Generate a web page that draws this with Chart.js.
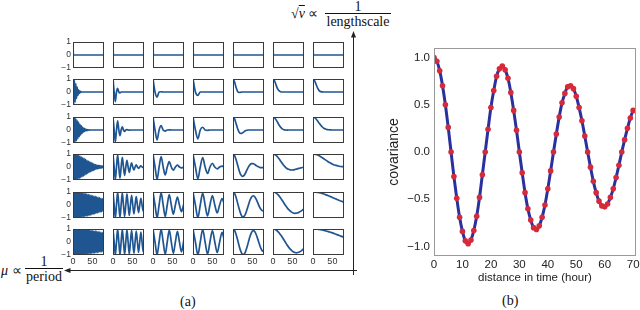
<!DOCTYPE html>
<html><head><meta charset="utf-8">
<script src="https://cdn.jsdelivr.net/npm/chart.js@4.4.1/dist/chart.umd.min.js"></script>
<style>
html,body{margin:0;padding:0;background:#fff;}
#wrap{position:relative;width:640px;height:310px;overflow:hidden;font-family:"Liberation Serif",serif;color:#111;}
canvas{position:absolute;}
.lbl{position:absolute;white-space:nowrap;font-size:14px;line-height:16px;}
.frac{position:absolute;text-align:center;font-size:14px;}
svg{position:absolute;left:0;top:0;}
</style></head><body><div id="wrap">
<svg width="640" height="310">
  <line x1="353.5" y1="275" x2="353.5" y2="36" stroke="#222" stroke-width="1"/>
  <polygon points="353.5,31 351,37.5 356,37.5" fill="#222"/>
  <line x1="357" y1="270.5" x2="69" y2="270.5" stroke="#222" stroke-width="1"/>
  <polygon points="64,270.5 70.5,268 70.5,273" fill="#222"/>
</svg>
<div class="lbl" style="left:291px;top:6px;">√<span style="text-decoration:overline;font-style:italic;">v</span> ∝</div>
<div class="frac" style="left:325px;top:0px;width:66px;"><div style="height:13px;line-height:13px;">1</div><div style="border-top:1px solid #111;line-height:15px;">lengthscale</div></div>
<div class="lbl" style="left:1px;top:263px;"><i>μ</i> ∝</div>
<div class="frac" style="left:25px;top:256px;width:38px;"><div style="height:12px;line-height:12px;">1</div><div style="border-top:1px solid #111;line-height:15px;">period</div></div>
<div class="lbl" style="left:180px;top:294px;">(a)</div>
<div class="lbl" style="left:502px;top:293px;">(b)</div>
</div>
<script>
// ---- panel (a): x grids per column (units of time) ----
const xFast = [0,1.8,3.6,5.4,7.2,9,10.8,12.6,14.4,16.2,18,19.8,21.6,23.4,25.2,27,28.8,30.6,32.4,34.2,36,37.8,39.6,41.4,43.2,45,46.8,48.6,50.4,52.2,54,55.8,57.6,59.4,61.2,63,64.8,66.6,68.4,70.2,72,73.8,75.6,77.4,79.2];
const x12 = [0,3,6,9,12,15,18,21,24,27,30,33,36,39,42,45,48,51,54,57,60,63,66,69,72,75,78,80];
const x21 = [0,5.25,10.5,15.75,21,26.25,31.5,36.75,42,47.25,52.5,57.75,63,68.25,73.5,78.75,80];
const x25 = [0,6.25,12.5,18.75,25,31.25,37.5,43.75,50,56.25,62.5,68.75,75,80];
const xSlow = [0,4,8,12,16,20,24,28,32,36,40,44,48,52,56,60,64,68,72,76,80];
const xSpike = [0,1,80];
const columnX = [xFast, x12, x21, x25, xSlow, xSlow, xSlow];

// ---- panel (a): cell values, one array per row (7 columns each) ----
const row1 = [[1,0,0],[1,0,0],[1,0,0],[1,0,0],[1,0,0],[1,0,0],[1,0,0]];
const row2 = [
 [1,-0.97,0.90,-0.78,0.64,-0.50,0.37,-0.26,0.17,-0.11,0.06,-0.04,0.02,0,0,0,0,0,0,0,0,0,0,0,0,0,0,0,0,0,0,0,0,0,0,0,0,0,0,0,0,0,0,0,0],
 [1,0,-0.74,0,0.29,0,-0.06,0,0,0,0,0,0,0,0,0,0,0,0,0,0,0,0,0,0,0,0,0],
 [1,0,-0.39,0,0.02,0,0,0,0,0,0,0,0,0,0,0,0],
 [1,0,-0.26,0,0,0,0,0,0,0,0,0,0,0],
 [1,0.78,0.34,0.04,-0.04,-0.02,0,0,0,0,0,0,0,0,0,0,0,0,0,0,0],
 [1,0.86,0.53,0.24,0.08,0.02,0,0,0,0,0,0,0,0,0,0,0,0,0,0,0],
 [1,0.87,0.58,0.29,0.11,0.03,0.01,0,0,0,0,0,0,0,0,0,0,0,0,0,0]
];
const row3 = [
 [1,-0.99,0.97,-0.93,0.88,-0.82,0.75,-0.67,0.60,-0.52,0.44,-0.38,0.31,-0.25,0.20,-0.16,0.13,-0.10,0.07,-0.05,0.04,-0.03,0.02,-0.01,0,0,0,0,0,0,0,0,0,0,0,0,0,0,0,0,0,0,0,0,0],
 [1,0,-0.91,0,0.70,0,-0.44,0,0.24,0,-0.11,0,0.04,0,-0.01,0,0,0,0,0,0,0,0,0,0,0,0,0],
 [1,0,-0.76,0,0.33,0,-0.08,0,0.01,0,0,0,0,0,0,0,0],
 [1,0,-0.68,0,0.21,0,-0.03,0,0,0,0,0,0,0],
 [1,0.85,0.50,0.10,-0.17,-0.27,-0.23,-0.14,-0.06,-0.02,0,0,0,0,0,0,0,0,0,0,0],
 [1,0.94,0.78,0.58,0.37,0.20,0.09,0.02,0,-0.01,0,0,0,0,0,0,0,0,0,0,0],
 [1,0.96,0.85,0.69,0.52,0.36,0.23,0.13,0.07,0.03,0.02,0.01,0,0,0,0,0,0,0,0,0]
];
const row4 = [
 [1,-1.00,0.99,-0.99,0.97,-0.96,0.94,-0.92,0.90,-0.88,0.85,-0.82,0.79,-0.76,0.73,-0.70,0.66,-0.63,0.59,-0.56,0.52,-0.49,0.46,-0.42,0.39,-0.36,0.34,-0.31,0.28,-0.26,0.23,-0.21,0.19,-0.17,0.15,-0.14,0.12,-0.11,0.10,-0.09,0.08,-0.07,0.06,-0.05,0.04],
 [1,0,-0.98,0,0.93,0,-0.85,0,0.75,0,-0.64,0,0.52,0,-0.41,0,0.32,0,-0.23,0,0.17,0,-0.11,0,0.08,0,-0.05,-0.02],
 [1,0,-0.95,0,0.80,0,-0.61,0,0.41,0,-0.25,0,0.14,0,-0.07,0,0.01],
 [1,0,-0.92,0,0.73,0,-0.50,0,0.29,0,-0.14,0,0.06,0.01],
 [1,0.88,0.56,0.14,-0.28,-0.59,-0.72,-0.67,-0.48,-0.22,0.01,0.18,0.26,0.26,0.19,0.11,0.03,-0.02,-0.05,-0.05,-0.04],
 [1,0.97,0.89,0.77,0.61,0.44,0.27,0.12,-0.01,-0.12,-0.18,-0.22,-0.23,-0.22,-0.20,-0.16,-0.13,-0.10,-0.07,-0.04,-0.03],
 [1,0.99,0.96,0.92,0.86,0.79,0.71,0.63,0.55,0.47,0.39,0.32,0.26,0.20,0.15,0.12,0.09,0.06,0.04,0.03,0.02]
];
const row5 = [
 [1,-1,1,-1,0.99,-0.99,0.99,-0.98,0.97,-0.97,0.96,-0.95,0.94,-0.93,0.92,-0.91,0.90,-0.89,0.88,-0.86,0.85,-0.84,0.82,-0.81,0.79,-0.78,0.76,-0.74,0.73,-0.71,0.69,-0.68,0.66,-0.64,0.63,-0.61,0.59,-0.57,0.56,-0.54,0.52,-0.51,0.49,-0.47,0.46],
 [1,0,-1.00,0,0.98,0,-0.96,0,0.93,0,-0.89,0,0.85,0,-0.80,0,0.75,0,-0.69,0,0.64,0,-0.58,0,0.52,0,-0.47,-0.22],
 [1,0,-0.99,0,0.95,0,-0.88,0,0.80,0,-0.71,0,0.61,0,-0.51,0,0.16],
 [1,0,-0.98,0,0.92,0,-0.84,0,0.73,0,-0.61,0,0.50,0.14],
 [1,0.89,0.58,0.14,-0.31,-0.68,-0.89,-0.89,-0.70,-0.36,0.02,0.38,0.62,0.71,0.63,0.43,0.16,-0.12,-0.33,-0.44,-0.45],
 [1,0.98,0.91,0.81,0.68,0.52,0.34,0.16,-0.02,-0.19,-0.34,-0.46,-0.55,-0.61,-0.64,-0.63,-0.60,-0.54,-0.47,-0.39,-0.30],
 [1,1.00,0.99,0.97,0.95,0.92,0.89,0.85,0.80,0.76,0.71,0.66,0.61,0.55,0.50,0.45,0.40,0.35,0.31,0.26,0.22]
];
const row6 = [
 [1,-1,1,-1,1,-1,0.99,-0.99,0.99,-0.99,0.98,-0.98,0.98,-0.97,0.97,-0.96,0.96,-0.95,0.95,-0.94,0.94,-0.93,0.93,-0.92,0.91,-0.90,0.90,-0.89,0.88,-0.87,0.86,-0.86,0.85,-0.84,0.83,-0.82,0.81,-0.80,0.79,-0.78,0.77,-0.76,0.75,-0.74,0.73],
 [1,0,-1.00,0,0.99,0,-0.98,0,0.97,0,-0.96,0,0.94,0,-0.92,0,0.89,0,-0.86,0,0.84,0,-0.80,0,0.77,0,-0.74,-0.37],
 [1,0,-0.99,0,0.98,0,-0.95,0,0.92,0,-0.87,0,0.82,0,-0.76,0,0.26],
 [1,0,-0.99,0,0.97,0,-0.93,0,0.88,0,-0.82,0,0.75,0.23],
 [1,0.89,0.58,0.15,-0.32,-0.70,-0.93,-0.95,-0.76,-0.40,0.03,0.44,0.74,0.87,0.80,0.56,0.22,-0.16,-0.49,-0.69,-0.72],
 [1,0.98,0.92,0.82,0.69,0.53,0.36,0.17,-0.02,-0.21,-0.38,-0.53,-0.65,-0.75,-0.80,-0.83,-0.81,-0.77,-0.70,-0.60,-0.48],
 [1,1.00,0.99,0.98,0.97,0.95,0.92,0.90,0.87,0.83,0.80,0.76,0.72,0.68,0.64,0.59,0.55,0.50,0.45,0.41,0.36]
];
const rows = [row1, row2, row3, row4, row5, row6];
const cellYTicks = [-1, 0, 1];
const cellXTicks = [0, 50];

// ---- panel (b) ----
const hours = [0,1,2,3,4,5,6,7,8,9,10,11,12,13,14,15,16,17,18,19,20,21,22,23,24,25,26,27,28,29,30,31,32,33,34,35,36,37,38,39,40,41,42,43,44,45,46,47,48,49,50,51,52,53,54,55,56,57,58,59,60,61,62,63,64,65,66,67,68,69,70];
const covariance = [1.00,0.96,0.86,0.70,0.50,0.26,0,-0.26,-0.49,-0.69,
 -0.84,-0.94,-0.97,-0.93,-0.83,-0.68,-0.48,-0.24,0,0.24,
 0.47,0.65,0.80,0.88,0.91,0.87,0.78,0.63,0.44,0.23,
 0,-0.22,-0.43,-0.60,-0.72,-0.80,-0.82,-0.78,-0.69,-0.56,
 -0.39,-0.20,0,0.19,0.37,0.52,0.62,0.69,0.70,0.67,
 0.59,0.47,0.33,0.17,0,-0.16,-0.31,-0.43,-0.52,-0.57,
 -0.58,-0.55,-0.48,-0.39,-0.27,-0.14,0,0.13,0.25,0.36,
 0.44];
const covYTicks = [-1, -0.5, 0, 0.5, 1];
const covXTicks = [0, 10, 20, 30, 40, 50, 60, 70];

const wrap = document.getElementById('wrap');
const minus = v => (v < 0 ? '\u2212' : '') + Math.abs(v);
const boxPlugin = {
  id: 'box',
  afterDatasetsDraw(chart, args, opts) {
    const a = chart.chartArea, c = chart.ctx;
    c.save();
    c.strokeStyle = opts.color || '#444';
    c.lineWidth = 1;
    c.strokeRect(Math.round(a.left) + 0.5, Math.round(a.top) + 0.5,
                 Math.round(a.right - a.left) - 1, Math.round(a.bottom - a.top) - 1);
    c.restore();
  }
};
function addCanvas(left, top, w, h) {
  const cv = document.createElement('canvas');
  cv.width = w; cv.height = h;
  cv.style.left = left + 'px'; cv.style.top = top + 'px';
  cv.style.width = w + 'px'; cv.style.height = h + 'px';
  wrap.appendChild(cv);
  return cv;
}
const rowTop = [42, 79, 117, 154, 192, 229];
const tickFont = {family: 'Liberation Sans', size: 9};
for (let r = 0; r < 6; r++) {
  for (let c = 0; c < 7; c++) {
    const L = 73 + 40 * c, T = rowTop[r];
    const yW = c === 0 ? 13 : 0, xH = r === 5 ? 11 : 0;
    const cv = addCanvas(L - yW - 4, T - 5, 4 + yW + 31 + 3, 5 + 26 + xH + 5);
    const xs = r === 0 ? xSpike : columnX[c];
    const ys = rows[r][c];
    new Chart(cv, {
      type: 'line',
      data: {datasets: [{
        data: xs.map((x, i) => ({x: x, y: ys[i]})),
        borderColor: '#1f5591', borderWidth: 1.7, pointRadius: 0,
        cubicInterpolationMode: 'monotone', fill: false
      }]},
      options: {
        responsive: false, animation: false, devicePixelRatio: 1, events: [],
        layout: {padding: {left: 4, right: 3, top: 5, bottom: 5}},
        plugins: {legend: {display: false}, tooltip: {enabled: false}, box: {color: '#3a3a3a'}},
        scales: {
          x: {type: 'linear', min: 0, max: 80, display: r === 5,
              grid: {display: false, drawTicks: false}, border: {display: false},
              ticks: {font: tickFont, color: '#333', padding: 1, maxRotation: 0, autoSkip: false},
              afterBuildTicks: s => { s.ticks = cellXTicks.map(v => ({value: v})); },
              afterFit: s => { s.height = xH; s.paddingLeft = 0; s.paddingRight = 0; }},
          y: {type: 'linear', min: -1, max: 1, display: c === 0,
              grid: {display: false, drawTicks: false}, border: {display: false},
              ticks: {font: {family: 'Liberation Sans', size: 8.5}, color: '#333', padding: 2, autoSkip: false,
                      callback: v => minus(v)},
              afterBuildTicks: s => { s.ticks = cellYTicks.map(v => ({value: v})); },
              afterFit: s => { s.width = yW; s.paddingTop = 0; s.paddingBottom = 0; }}
        }
      },
      plugins: [boxPlugin]
    });
  }
}

// panel (b)
const cvB = addCanvas(382, 36, 258, 250);
const pts = hours.map((h, i) => ({x: h, y: covariance[i]}));
new Chart(cvB, {
  type: 'line',
  data: {datasets: [
    {data: pts, showLine: false, pointRadius: 2.8, pointBackgroundColor: '#d42a3a', pointBorderWidth: 0},
    {data: pts, borderColor: '#2a309c', borderWidth: 3, pointRadius: 0, cubicInterpolationMode: 'monotone', fill: false}
  ]},
  options: {
    responsive: false, animation: false, devicePixelRatio: 1, events: [],
    layout: {padding: {left: 0, right: 3, top: 12, bottom: 0}},
    plugins: {legend: {display: false}, tooltip: {enabled: false}, box: {color: '#999'}},
    scales: {
      x: {type: 'linear', min: 0, max: 71,
          grid: {display: false, drawTicks: false}, border: {display: false},
          ticks: {font: {family: 'Liberation Sans', size: 11.5}, color: '#222', padding: 2, maxRotation: 0, autoSkip: false},
          title: {display: true, text: 'distance in time (hour)', font: {family: 'Liberation Sans', size: 11.5}, color: '#222', padding: {top: 0, bottom: 1}},
          afterBuildTicks: s => { s.ticks = covXTicks.map(v => ({value: v})); },
          afterFit: s => { s.height = 30; s.paddingLeft = 0; s.paddingRight = 0; }},
      y: {type: 'linear', min: -1.1, max: 1.1,
          grid: {display: false, drawTicks: false}, border: {display: false},
          ticks: {font: {family: 'Liberation Sans', size: 11.5}, color: '#222', padding: 4, autoSkip: false,
                  callback: v => (v < 0 ? '\u2212' : '') + Math.abs(v).toFixed(1)},
          title: {display: true, text: 'covariance', font: {family: 'Liberation Sans', size: 14}, color: '#222', padding: {top: 4, bottom: 0}},
          afterBuildTicks: s => { s.ticks = covYTicks.map(v => ({value: v})); },
          afterFit: s => { s.width = 52; s.paddingTop = 0; s.paddingBottom = 0; }}
    }
  },
  plugins: [boxPlugin]
});
</script>
</body></html>
